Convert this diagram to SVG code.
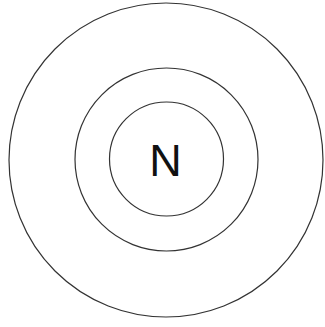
<svg xmlns="http://www.w3.org/2000/svg" width="325" height="327" viewBox="0 0 325 327">
<style>
.ring{fill:none;stroke:#333;stroke-width:1.2}
.lbl{font-family:"Liberation Sans",Arial,sans-serif;font-size:45px;fill:#111;text-anchor:middle}
</style>
<rect width="325" height="327" fill="#fff"/>
<g id="outer"><circle class="ring" cx="166" cy="160" r="157"/></g>
<g id="middle"><circle class="ring" cx="166.5" cy="159.5" r="91.5"/></g>
<g id="inner"><circle class="ring" cx="166.5" cy="159" r="57"/><text class="lbl" x="165.5" y="176">N</text></g>
</svg>
